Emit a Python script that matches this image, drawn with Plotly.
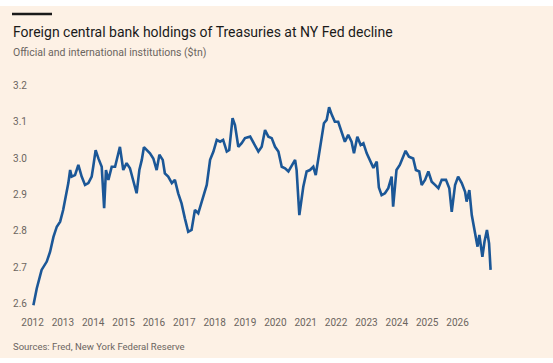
import plotly.graph_objects as go

# Data (fractional year positions, $tn)
years = [2012.03, 2012.14, 2012.30, 2012.47, 2012.58, 2012.69, 2012.80, 2012.91, 2013.01, 2013.13,
         2013.18, 2013.24, 2013.29, 2013.40, 2013.51, 2013.62, 2013.73, 2013.84, 2013.95, 2014.00,
         2014.08, 2014.17, 2014.28, 2014.36, 2014.42, 2014.50, 2014.61, 2014.72, 2014.79, 2014.88,
         2014.99, 2015.10, 2015.21, 2015.32, 2015.43, 2015.52, 2015.60, 2015.67, 2015.78, 2015.87,
         2015.98, 2016.09, 2016.18, 2016.29, 2016.36, 2016.47, 2016.59, 2016.69, 2016.80, 2016.91,
         2017.02, 2017.13, 2017.24, 2017.35, 2017.46, 2017.63, 2017.74, 2017.85, 2017.96, 2018.07,
         2018.18, 2018.28, 2018.40, 2018.48, 2018.59, 2018.67, 2018.78, 2018.89, 2019.00, 2019.17,
         2019.27, 2019.44, 2019.55, 2019.66, 2019.77, 2019.88, 2019.99, 2020.10, 2020.21, 2020.32,
         2020.43, 2020.54, 2020.65, 2020.70, 2020.79, 2020.92, 2021.03, 2021.14, 2021.25, 2021.33,
         2021.41, 2021.53, 2021.60, 2021.69, 2021.77, 2021.86, 2021.96, 2022.07, 2022.18, 2022.29,
         2022.40, 2022.51, 2022.59, 2022.70, 2022.81, 2022.90, 2023.01, 2023.12, 2023.23, 2023.34,
         2023.41, 2023.50, 2023.61, 2023.72, 2023.83, 2023.88, 2023.99, 2024.10, 2024.19, 2024.29,
         2024.40, 2024.54, 2024.63, 2024.74, 2024.82, 2024.93, 2025.04, 2025.15, 2025.26, 2025.37,
         2025.48, 2025.62, 2025.73, 2025.81, 2025.92, 2026.02, 2026.14, 2026.25, 2026.30, 2026.39,
         2026.47, 2026.58, 2026.66, 2026.72, 2026.82, 2026.89, 2026.97, 2027.04, 2027.09]

holdings = [2.595, 2.641, 2.692, 2.715, 2.742, 2.783, 2.811, 2.825, 2.857, 2.903,
            2.931, 2.967, 2.949, 2.953, 2.981, 2.949, 2.926, 2.931, 2.949, 2.976,
            3.022, 2.999, 2.976, 2.862, 2.967, 2.940, 2.976, 2.976, 2.999, 3.031,
            2.967, 2.986, 2.972, 2.940, 2.903, 2.967, 2.995, 3.030, 3.022, 3.013,
            2.999, 2.967, 3.009, 2.995, 2.958, 2.949, 2.931, 2.940, 2.903, 2.875,
            2.834, 2.797, 2.802, 2.857, 2.848, 2.894, 2.926, 2.995, 3.018, 3.050,
            3.045, 3.050, 3.018, 3.022, 3.110, 3.091, 3.031, 3.041, 3.055, 3.059,
            3.045, 3.018, 3.031, 3.077, 3.059, 3.055, 3.031, 3.018, 2.976, 2.972,
            2.963, 2.981, 2.995, 2.967, 2.843, 2.921, 2.963, 2.967, 2.976, 2.953,
            2.995, 3.059, 3.096, 3.105, 3.140, 3.119, 3.100, 3.100, 3.073, 3.045,
            3.064, 3.045, 3.013, 3.059, 3.036, 3.041, 3.013, 2.992, 2.973, 2.990,
            2.919, 2.898, 2.903, 2.917, 2.949, 2.866, 2.967, 2.981, 2.999, 3.020,
            3.004, 2.999, 2.967, 2.963, 2.926, 2.940, 2.963, 2.935, 2.926, 2.917,
            2.940, 2.940, 2.917, 2.852, 2.926, 2.949, 2.931, 2.907, 2.880, 2.912,
            2.843, 2.793, 2.756, 2.788, 2.728, 2.770, 2.802, 2.765, 2.692]

x_tick_vals = list(range(2012, 2027))
x_tick_labels = [str(y) for y in x_tick_vals]
y_tick_vals = [2.6, 2.7, 2.8, 2.9, 3.0, 3.1, 3.2]
y_tick_labels = ["2.6", "2.7", "2.8", "2.9", "3.0", "3.1", "3.2"]

title = "Foreign central bank holdings of Treasuries at NY Fed decline"
subtitle = "Official and international institutions ($tn)"
source = "Sources: Fred, New York Federal Reserve"

W, H = 553, 363
L, R, T, B = 32, 53, 80, 57
PW, PH = W - L - R, H - T - B

def px(x):
    return (x - L) / PW

def py(y):
    return (H - B - y) / PH

BG = "#fdf1e5"
GREY = "#6b6560"
FONT = "Roboto"

fig = go.Figure()
fig.add_trace(go.Scatter(
    x=years, y=holdings, mode="lines",
    line=dict(color="#1b5797", width=2.6, shape="linear"),
    hoverinfo="skip", showlegend=False,
))

fig.update_layout(
    width=W, height=H,
    margin=dict(l=L, r=R, t=T, b=B, pad=0),
    paper_bgcolor="white",
    plot_bgcolor="rgba(0,0,0,0)",
    font=dict(family=FONT, color=GREY, size=10),
    hovermode=False,
    xaxis=dict(
        range=[2011.9835, 2027.40], tickvals=x_tick_vals, ticktext=x_tick_labels,
        showgrid=False, zeroline=False, showline=False, automargin=False,
        ticks="outside", ticklen=7, tickcolor="rgba(0,0,0,0)",
        tickfont=dict(family=FONT, size=10, color=GREY),
    ),
    yaxis=dict(
        range=[2.5926, 3.215], tickvals=y_tick_vals, ticktext=y_tick_labels,
        showgrid=False, zeroline=False, showline=False, automargin=False,
        ticks="outside", ticklen=2, tickcolor="rgba(0,0,0,0)",
        tickfont=dict(family=FONT, size=10, color=GREY),
    ),
    shapes=[
        dict(type="rect", xref="paper", yref="paper", layer="below",
             x0=px(0), x1=px(W), y0=py(358), y1=py(6),
             fillcolor=BG, line=dict(width=0)),
        dict(type="line", xref="paper", yref="paper",
             x0=px(12), x1=px(52), y0=py(14), y1=py(14),
             line=dict(color="#1a1a1a", width=2.6)),
    ],
    annotations=[
        dict(text=title, xref="paper", yref="paper", x=px(11), y=py(32),
             xanchor="left", yanchor="middle", showarrow=False,
             font=dict(family=FONT, size=14, color="#1a1a1a")),
        dict(text=subtitle, xref="paper", yref="paper", x=px(11), y=py(53),
             xanchor="left", yanchor="middle", showarrow=False,
             font=dict(family=FONT, size=10.5, color=GREY)),
        dict(text=source, xref="paper", yref="paper", x=px(11), y=py(346),
             xanchor="left", yanchor="middle", showarrow=False,
             font=dict(family=FONT, size=9.5, color=GREY)),
    ],
)

fig.write_html(
    "out.html",
    config={"displayModeBar": False, "staticPlot": True},
    post_script="document.body.style.margin='0';document.body.style.overflow='hidden';",
)
